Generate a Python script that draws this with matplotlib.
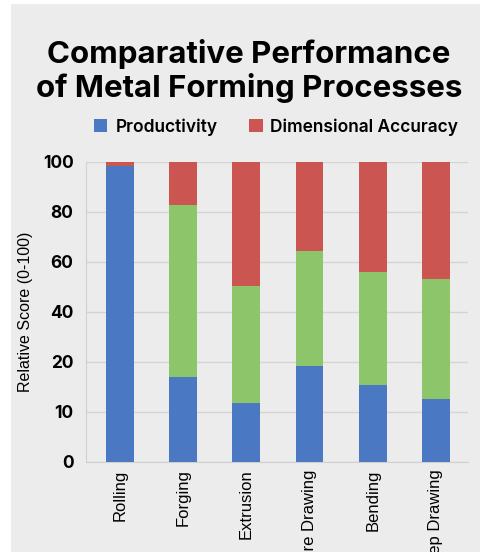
import matplotlib.pyplot as plt
import numpy as np
from matplotlib.patches import Patch, Rectangle

# --- data (in axis units 0-100) ---
processes = ["Rolling", "Forging", "Extrusion", "Wire Drawing", "Bending", "Deep Drawing"]
productivity = [98.7, 28.1, 19.7, 32.0, 25.7, 20.9]
formability = [0.0, 57.5, 38.9, 38.3, 37.5, 40.0]
accuracy = [1.3, 14.4, 41.4, 29.7, 36.8, 39.1]

# odd tick labels of the original, evenly spaced along the axis
tick_pos = [0, 100 / 6, 200 / 6, 50, 400 / 6, 500 / 6, 100]
tick_labels = ["0", "10", "20", "40", "60", "80", "100"]

BLUE = "#4a78c2"
GREEN = "#8dc56b"
RED = "#cb5550"
BG = "#ececec"

fig = plt.figure(figsize=(4.81, 5.52), dpi=100, facecolor="white")
fig.patches.append(Rectangle((11 / 481, 0), 1, 1 - 4 / 552, transform=fig.transFigure,
                             facecolor=BG, edgecolor="none", zorder=-10))

ax = fig.add_axes([86 / 481, 1 - 461.7 / 552, (468 - 86) / 481, 300 / 552])
ax.set_facecolor(BG)

x = np.arange(len(processes))
w = 0.44
prod = np.array(productivity)
form = np.array(formability)
acc = np.array(accuracy)
ax.bar(x, prod, w, color=BLUE, zorder=3, clip_on=False)
ax.bar(x, form, w, bottom=prod, color=GREEN, zorder=3, clip_on=False)
ax.bar(x, acc, w, bottom=prod + form, color=RED, zorder=3, clip_on=False)

ax.set_xlim(-0.54, len(processes) - 0.49)
ax.set_ylim(0, 100)
ax.set_yticks(tick_pos)
ax.set_yticklabels(tick_labels, fontsize=12.5, fontweight="bold", family="Inter")
ax.set_xticks(x)
ax.set_xticklabels(processes, rotation=90, fontsize=12,
                   family=["Liberation Sans Narrow", "Liberation Sans"], va="top")
ax.tick_params(axis="y", length=0, pad=9)
ax.tick_params(axis="x", length=0, pad=5.5)
ax.grid(axis="y", color="#d4d4d4", linewidth=1, zorder=0)

for s in ["top", "right"]:
    ax.spines[s].set_visible(False)
ax.spines["left"].set_color("#d0d0d0")
ax.spines["bottom"].set_color("#d0d0d0")

ax.set_ylabel("Relative Score (0-100)", fontsize=11.5,
              family=["Liberation Sans Narrow", "Liberation Sans"], labelpad=7)

fig.text(249 / 481, 1 - 71 / 552, "Comparative Performance\nof Metal Forming Processes",
         ha="center", va="center", fontsize=22.5, fontweight="bold", family="Inter",
         linespacing=1.14)

handles = [Patch(facecolor=BLUE, label="Productivity"),
           Patch(facecolor=RED, label="Dimensional Accuracy")]
leg = fig.legend(handles=handles, loc="center", bbox_to_anchor=(276 / 481, 1 - 127 / 552),
                 ncol=2, frameon=False, handlelength=0.8, handleheight=0.8,
                 handletextpad=0.45, columnspacing=1.8,
                 prop={"family": "Inter", "weight": "semibold", "size": 12.5})

fig.savefig("out.png", dpi=100, facecolor=fig.get_facecolor())
